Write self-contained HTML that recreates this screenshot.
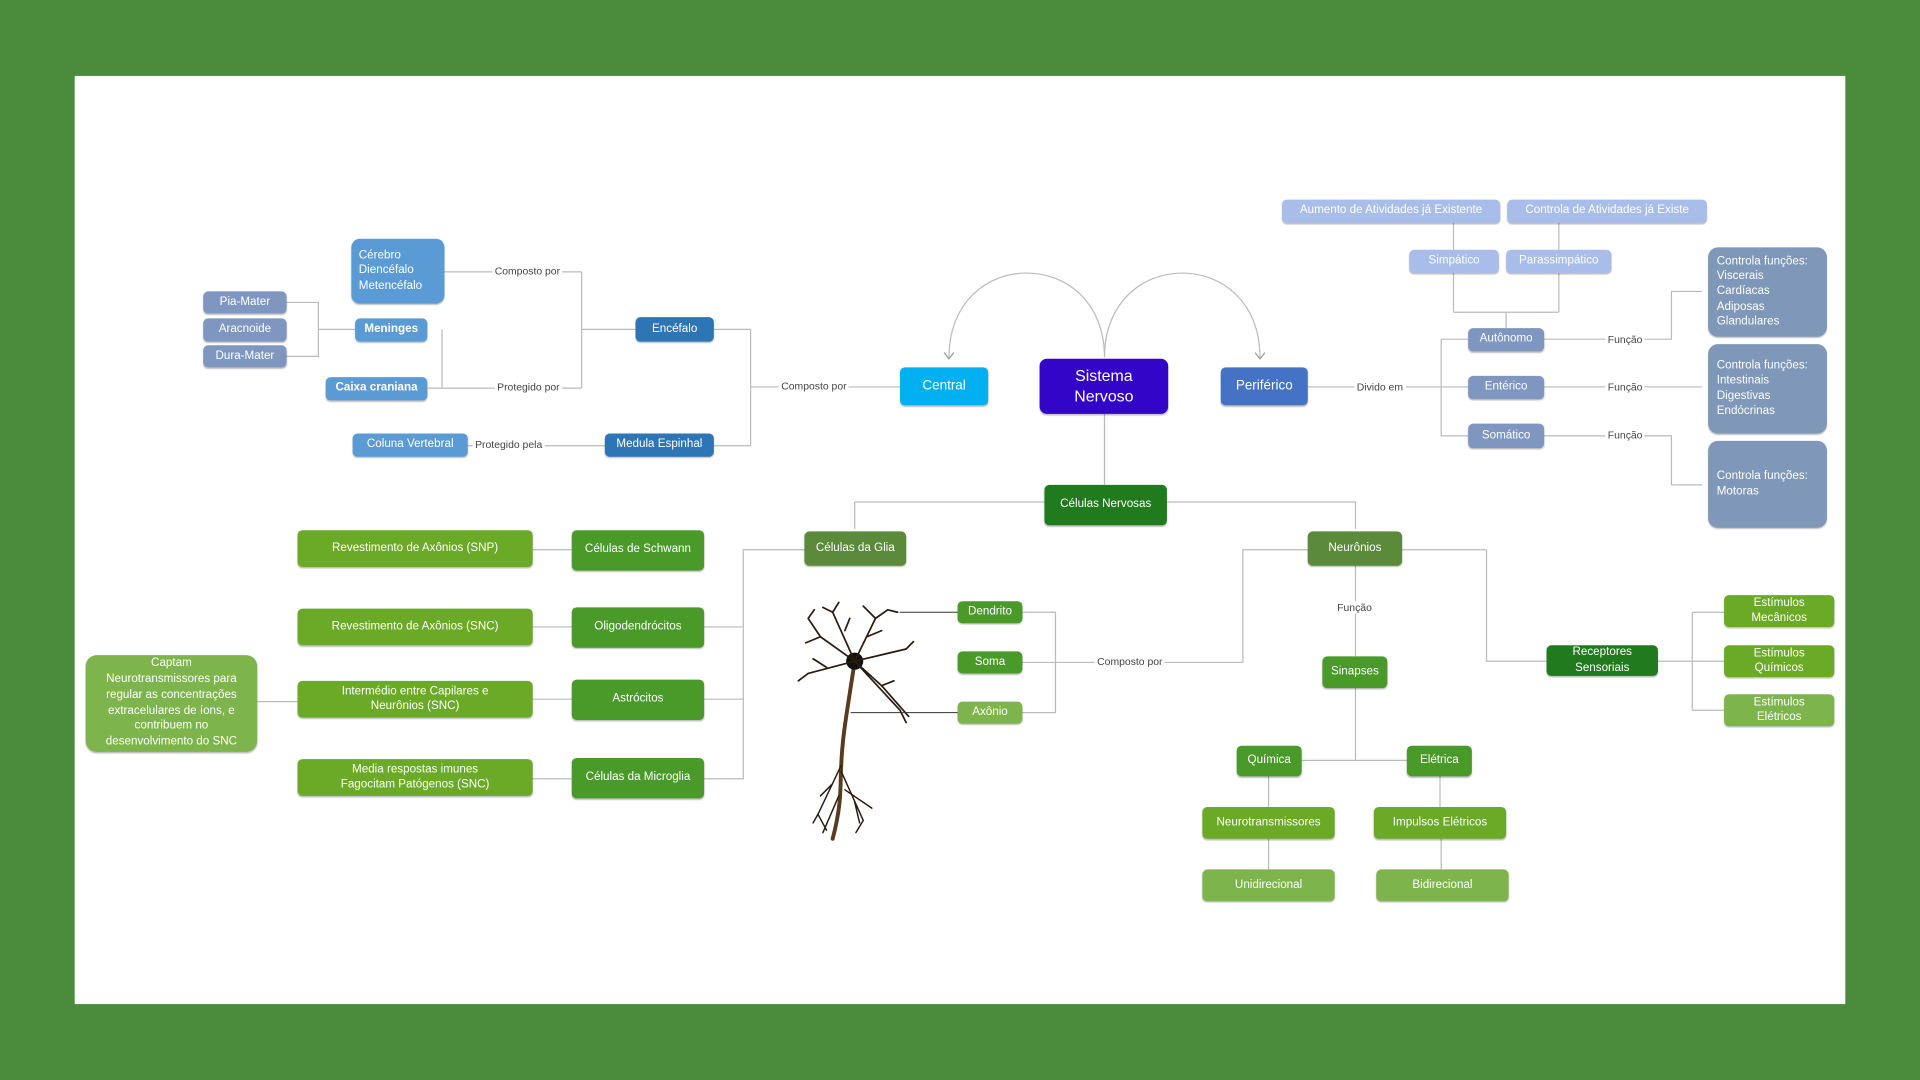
<!DOCTYPE html>
<html><head><meta charset="utf-8"><style>
html,body{margin:0;padding:0;width:1920px;height:1080px;overflow:hidden;background:#4a8c3c}
#w{position:absolute;left:0;top:0;width:1568px;height:882px;transform:scale(1.22449);transform-origin:0 0;font-family:"Liberation Sans",sans-serif}
#p{position:absolute;left:61px;top:62px;width:1446px;height:758px;background:#fff}
.n{position:absolute;display:flex;align-items:center;justify-content:center;text-align:center;color:#fff;font-size:9.5px;border-radius:4px;line-height:1.3;box-sizing:border-box;box-shadow:0 1px 1px rgba(0,0,0,.25)}
.l{position:absolute;font-size:8.5px;color:#444;background:#fff;padding:0 2px}
.b1{background:#5b9bd5}.b2{background:#2e75b6}.bg{background:#7f96c0}.bl{background:#a9bdeb}.bs{background:#7f97b8}
.g1{background:#6aaa26}.g2{background:#4a9a2a}.gd{background:#217a1d}.go{background:#5b8a3a}.gl{background:#7db54c}
svg{position:absolute;left:0;top:0}
</style></head><body><div id="w"><div id="p"></div>
<svg width="1568" height="882" fill="none" stroke="#bbb" stroke-width="1">
<path d="M775 292 C775 200 902 200 902 292 M902 292 C902 200 1029 200 1029 292"/>
<path d="M771 288 l4 5 l4-5 M1025 288 l4 5 l4-5" stroke="#999"/>
<path d="M735 316 H613 M613 269 V364 M583 269 H613 M583 364 H613 M519 269 H475 M475 222 V317 M475 222 H363 M475 317 H349 M290 269 H260 M234 247 H260 V291 H234 M361 269 V317 M494 364 H382"/>
<path d="M902 338 V396 M698 410 H853 M698 410 V432 M953 410 H1107 V432 M657 449 H607 V636 H575 M607 512 H575 M607 571 H575 M467 449 H435 M467 512 H435 M467 571 H435 M467 636 H435 M243 573 H210"/>
<path d="M835 500 H862 V582 H835 M835 541 H862 M862 541 H1015 V449 H1068 M1107 462 V536 M1145 449 H1214 V540 H1263 M1354 540 H1382 M1382 500 V580 M1382 500 H1408 M1382 540 H1408 M1382 580 H1408"/>
<path d="M1107 562 V621 M1063 621 H1149 M1036 634 V659 M1176 634 V659 M1036 685 V710 M1177 685 V710"/>
<path d="M1068 316 H1199 M1177 277 V356 H1199 M1177 277 H1199 M1261 277 H1365 V238 H1390 M1261 316 H1390 M1261 356 H1365 V396 H1390 M1230 268 V255 M1187 255 H1273 M1187 255 V223 M1273 255 V223 M1187 204 V182 M1273 204 V182"/>
</svg>
<svg width="1568" height="882" fill="none" stroke="#2a1a10" stroke-linecap="round">
<path d="M698 540 C692 580 688 600 687 625 C686 640 688 655 680 685" stroke="#5a3a20" stroke-width="3.2"/>
<path d="M687 625 L668 665 L664 672 M687 630 L705 670 M685 650 L672 680 M690 645 L712 660 M668 665 L675 678 M705 670 L699 680 M698 655 L702 672 M680 640 L670 650" stroke-width="1.2"/>
<circle cx="698" cy="540" r="7" fill="#111" stroke="none"/>
<path d="M698 540 L670 520 L660 505 M698 540 L680 500 L685 492 M698 540 L715 505 L725 498 M698 540 L740 530 M698 540 L735 580 M698 540 L660 550 M670 520 L658 525 M715 505 L705 495 M698 540 L720 560 L742 585 M680 500 L672 496 M660 505 L665 498 M725 498 L733 500 M740 530 L746 524 M660 550 L652 556 M720 560 L730 556 M735 580 L740 590 M690 515 L694 505 M708 520 L720 515 M675 545 L664 538" stroke-width="1.4"/>
<path d="M735 500 H782 M695 582 H782" stroke="#333" stroke-width="0.8"/>
</svg>
<div class="n b1" style="left:287px;top:195px;width:76px;height:53px;justify-content:flex-start;text-align:left;padding-left:6px;border-radius:7px">Cérebro<br>Diencéfalo<br>Metencéfalo</div>
<div class="n bg" style="left:166px;top:238px;width:68px;height:18px">Pia-Mater</div>
<div class="n bg" style="left:166px;top:260px;width:68px;height:19px">Aracnoide</div>
<div class="n bg" style="left:166px;top:282px;width:68px;height:18px">Dura-Mater</div>
<div class="n b1" style="left:290px;top:260px;width:59px;height:19px;font-weight:bold">Meninges</div>
<div class="n b1" style="left:266px;top:308px;width:83px;height:19px;font-weight:bold">Caixa craniana</div>
<div class="n b1" style="left:288px;top:354px;width:94px;height:19px">Coluna Vertebral</div>
<div class="n b2" style="left:519px;top:259px;width:64px;height:20px">Encéfalo</div>
<div class="n b2" style="left:494px;top:354px;width:89px;height:19px">Medula Espinhal</div>
<div class="l" style="left:402px;top:216px">Composto por</div>
<div class="l" style="left:404px;top:311px">Protegido por</div>
<div class="l" style="left:386px;top:358px">Protegido pela</div>
<div class="l" style="left:636px;top:310px">Composto por</div>
<div class="l" style="left:1106px;top:311px">Divido em</div>
<div class="n" style="left:735px;top:300px;width:72px;height:31px;background:#00b0f0;font-size:11px">Central</div>
<div class="n" style="left:849px;top:293px;width:105px;height:45px;background:#3205c8;font-size:13px;border-radius:6px">Sistema<br>Nervoso</div>
<div class="n" style="left:997px;top:300px;width:71px;height:31px;background:#4472c4;font-size:11px">Periférico</div>
<div class="n bl" style="left:1047px;top:163px;width:178px;height:19px">Aumento de Atividades já Existente</div>
<div class="n bl" style="left:1231px;top:163px;width:163px;height:19px">Controla de Atividades já Existe</div>
<div class="n bl" style="left:1151px;top:204px;width:73px;height:19px">Simpático</div>
<div class="n bl" style="left:1230px;top:204px;width:86px;height:19px">Parassimpático</div>
<div class="n bg" style="left:1199px;top:268px;width:62px;height:19px">Autônomo</div>
<div class="n bg" style="left:1199px;top:307px;width:62px;height:19px">Entérico</div>
<div class="n bg" style="left:1199px;top:346px;width:62px;height:20px">Somático</div>
<div class="l" style="left:1311px;top:272px">Função</div>
<div class="l" style="left:1311px;top:311px">Função</div>
<div class="l" style="left:1311px;top:350px">Função</div>
<div class="n bs" style="left:1395px;top:202px;width:97px;height:73px;justify-content:flex-start;text-align:left;padding-left:7px;border-radius:8px">Controla funções:<br>Viscerais<br>Cardíacas<br>Adiposas<br>Glandulares</div>
<div class="n bs" style="left:1395px;top:281px;width:97px;height:73px;justify-content:flex-start;text-align:left;padding-left:7px;border-radius:8px">Controla funções:<br>Intestinais<br>Digestivas<br>Endócrinas</div>
<div class="n bs" style="left:1395px;top:360px;width:97px;height:71px;justify-content:flex-start;text-align:left;padding-left:7px;border-radius:8px">Controla funções:<br>Motoras</div>
<div class="n gd" style="left:853px;top:396px;width:100px;height:33px">Células Nervosas</div>
<div class="n go" style="left:657px;top:434px;width:83px;height:28px">Células da Glia</div>
<div class="n go" style="left:1068px;top:434px;width:77px;height:28px">Neurônios</div>
<div class="n g2" style="left:467px;top:433px;width:108px;height:33px">Células de Schwann</div>
<div class="n g2" style="left:467px;top:496px;width:108px;height:33px">Oligodendrócitos</div>
<div class="n g2" style="left:467px;top:555px;width:108px;height:33px">Astrócitos</div>
<div class="n g2" style="left:467px;top:619px;width:108px;height:33px">Células da Microglia</div>
<div class="n g1" style="left:243px;top:433px;width:192px;height:30px">Revestimento de Axônios (SNP)</div>
<div class="n g1" style="left:243px;top:497px;width:192px;height:30px">Revestimento de Axônios (SNC)</div>
<div class="n g1" style="left:243px;top:556px;width:192px;height:30px">Intermédio entre Capilares e<br>Neurônios (SNC)</div>
<div class="n g1" style="left:243px;top:620px;width:192px;height:30px">Media respostas imunes<br>Fagocitam Patógenos (SNC)</div>
<div class="n gl" style="left:70px;top:535px;width:140px;height:79px;border-radius:9px;line-height:1.35">Captam<br>Neurotransmissores para<br>regular as concentrações<br>extracelulares de íons, e<br>contribuem no<br>desenvolvimento do SNC</div>
<div class="n g2" style="left:782px;top:491px;width:53px;height:18px">Dendrito</div>
<div class="n g2" style="left:782px;top:532px;width:53px;height:18px">Soma</div>
<div class="n gl" style="left:782px;top:573px;width:53px;height:18px">Axônio</div>
<div class="l" style="left:894px;top:535px">Composto por</div>
<div class="l" style="left:1090px;top:491px">Função</div>
<div class="n g2" style="left:1080px;top:536px;width:53px;height:26px">Sinapses</div>
<div class="n g2" style="left:1010px;top:609px;width:53px;height:25px">Química</div>
<div class="n g2" style="left:1149px;top:609px;width:53px;height:25px">Elétrica</div>
<div class="n g1" style="left:982px;top:659px;width:108px;height:26px">Neurotransmissores</div>
<div class="n g1" style="left:1122px;top:659px;width:108px;height:26px">Impulsos Elétricos</div>
<div class="n gl" style="left:982px;top:710px;width:108px;height:26px">Unidirecional</div>
<div class="n gl" style="left:1124px;top:710px;width:108px;height:26px">Bidirecional</div>
<div class="n gd" style="left:1263px;top:527px;width:91px;height:25px">Receptores<br>Sensoriais</div>
<div class="n g1" style="left:1408px;top:486px;width:90px;height:26px">Estímulos<br>Mecânicos</div>
<div class="n g1" style="left:1408px;top:527px;width:90px;height:26px">Estímulos<br>Químicos</div>
<div class="n gl" style="left:1408px;top:567px;width:90px;height:26px">Estímulos<br>Elétricos</div>
</div></body></html>
